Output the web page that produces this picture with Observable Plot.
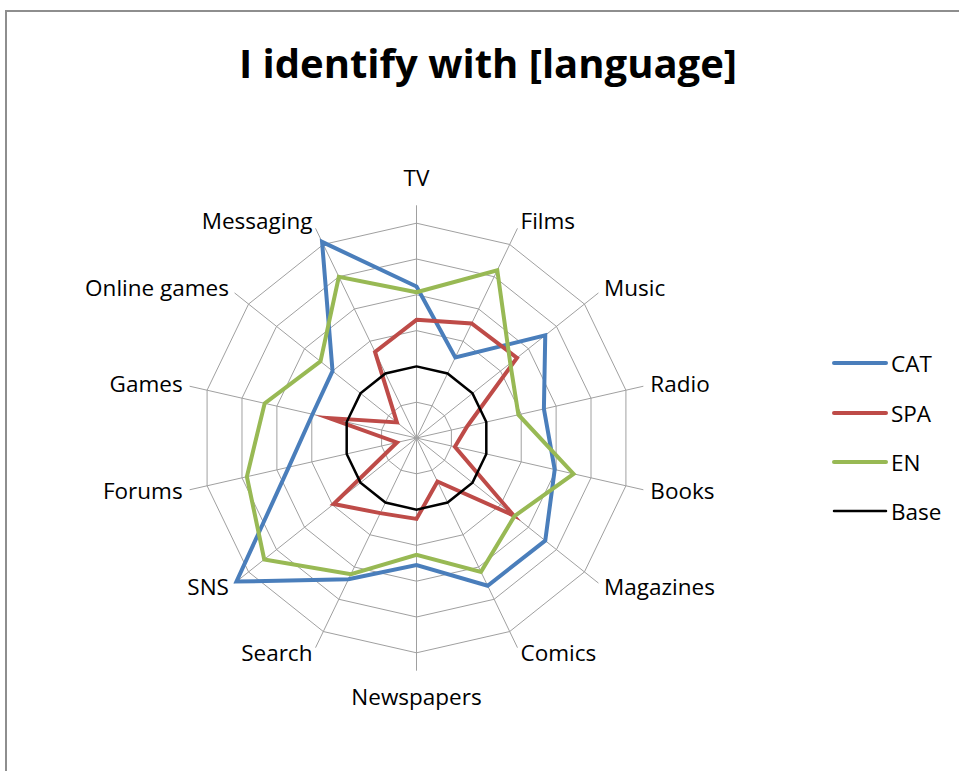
<!DOCTYPE html>
<html>
<head>
<meta charset="utf-8">
<script src="https://cdn.jsdelivr.net/npm/d3@7"></script>
<script src="https://cdn.jsdelivr.net/npm/@observablehq/plot@0.6"></script>
<style>
  html, body { margin: 0; padding: 0; background: #fff; overflow: hidden; }
  body { width: 959px; height: 771px; position: relative; font-family: "Open Sans", sans-serif; }
  #frame { position: absolute; left: 5px; top: 10px; width: 1100px; height: 900px; border: 2px solid #8e8e8e; box-sizing: border-box; }
  #chart { position: absolute; left: 0; top: 0; }
  #title { position: absolute; left: 0; width: 976px; top: 38px; text-align: center; font-weight: 700; font-size: 40px; line-height: 50px; color: #000; }
  #legend { position: absolute; left: 832px; top: 0; }
  .row { position: absolute; left: 0; height: 30px; display: flex; align-items: center; white-space: nowrap; font-size: 22.5px; color: #000; }
  .row svg { margin-right: 3px; }
</style>
</head>
<body>
<div id="frame"></div>
<div id="chart"></div>
<div id="title">I identify with [language]</div>
<div id="legend"></div>
<script>
// ---- data ----
const categories = ["TV","Films","Music","Radio","Books","Magazines","Comics","Newspapers","Search","SNS","Forums","Games","Online games","Messaging"];
const seriesNames = ["CAT","SPA","EN","Base"];
const catValues  = [4.23, 2.5, 4.6, 3.65, 3.96, 4.6, 4.58, 3.55, 4.38, 6.43, 3.66, 2.98, 3.0, 6.08];
const spaValues  = [3.3, 3.55, 3.59, 1.45, 1.1, 3.47, 1.35, 2.26, 2.33, 2.96, 0.56, 2.5, 0.7, 2.67];
const enValues   = [4.07, 5.2, 3.35, 2.92, 4.5, 3.5, 4.15, 3.26, 4.22, 5.44, 4.86, 4.35, 3.43, 5.0];
const baseValues = [2, 2, 2, 2, 2, 2, 2, 2, 2, 2, 2, 2, 2, 2];
const ringLevels = [1, 2, 3, 4, 5, 6];
const seriesColors = ["#4A7EBB", "#BE4B48", "#98B954", "#000000"];
const seriesWidths = [4, 4, 4, 2.5];

// ---- geometry ----
const W = 959, H = 771, cx = 416, cy = 437.5, k = 35.8; // px per unit
const spokeLen = 6.5, labelR = 6.7, labelRv = 7.25;
const n = categories.length;
const ang = i => i * 2 * Math.PI / n;
const px = (i, r) => r * Math.sin(ang(i));
const py = (i, r) => r * Math.cos(ang(i));

const allValues = [catValues, spaValues, enValues, baseValues];
const seriesRows = [];
seriesNames.forEach((s, si) => {
  const vals = allValues[si];
  for (let i = 0; i <= n; i++) {
    const j = i % n;
    seriesRows.push({series: s, cat: categories[j], x: px(j, vals[j]), y: py(j, vals[j])});
  }
});
const ringRows = [];
ringLevels.forEach(l => {
  for (let i = 0; i <= n; i++) {
    const j = i % n;
    ringRows.push({level: l, x: px(j, l), y: py(j, l)});
  }
});
const spokes = categories.map((c, i) => ({c, x2: px(i, spokeLen), y2: py(i, spokeLen)}));
const labels = categories.map((c, i) => ({c, i}));
const rightLabels = labels.filter(d => d.i > 0 && d.i < n / 2);
const leftLabels = labels.filter(d => d.i > n / 2);
const midLabels = labels.filter(d => d.i === 0 || d.i === n / 2);

const seriesMarks = seriesNames.map((s, si) =>
  Plot.line(seriesRows.filter(d => d.series === s), {
    x: "x", y: "y", stroke: seriesColors[si], strokeWidth: seriesWidths[si],
    strokeLinejoin: "miter", strokeMiterlimit: 10
  })
);

const chart = Plot.plot({
  width: W, height: H, margin: 0,
  x: {domain: [-cx / k, (W - cx) / k], axis: null},
  y: {domain: [-(H - cy) / k, cy / k], axis: null},
  style: {fontFamily: "'Open Sans', sans-serif", background: "transparent", overflow: "visible"},
  marks: [
    Plot.line(ringRows, {x: "x", y: "y", z: "level", stroke: "#a0a0a0", strokeWidth: 1}),
    Plot.link(spokes, {x1: 0, y1: 0, x2: "x2", y2: "y2", stroke: "#a0a0a0", strokeWidth: 1}),
    ...seriesMarks,
    Plot.text(rightLabels, {x: d => px(d.i, labelR), y: d => py(d.i, labelR), text: "c", textAnchor: "start", lineAnchor: "middle", fontSize: 22.5, fill: "#000"}),
    Plot.text(leftLabels, {x: d => px(d.i, labelR), y: d => py(d.i, labelR), text: "c", textAnchor: "end", lineAnchor: "middle", fontSize: 22.5, fill: "#000"}),
    Plot.text(midLabels, {x: d => px(d.i, labelRv), y: d => py(d.i, labelRv), text: "c", textAnchor: "middle", lineAnchor: "middle", fontSize: 22.5, fill: "#000"})
  ]
});
document.getElementById("chart").appendChild(chart);

// ---- legend ----
const legendTops = [363, 413, 462, 511];
const legend = document.getElementById("legend");
seriesNames.forEach((s, si) => {
  const row = document.createElement("div");
  row.className = "row";
  row.style.top = (legendTops[si] - 15) + "px";
  row.innerHTML = `<svg width="56" height="10"><line x1="2" y1="5" x2="54" y2="5" stroke="${seriesColors[si]}" stroke-width="${si === 3 ? 2.5 : 4}" stroke-linecap="round"/></svg><span>${s}</span>`;
  legend.appendChild(row);
});
</script>
</body>
</html>
